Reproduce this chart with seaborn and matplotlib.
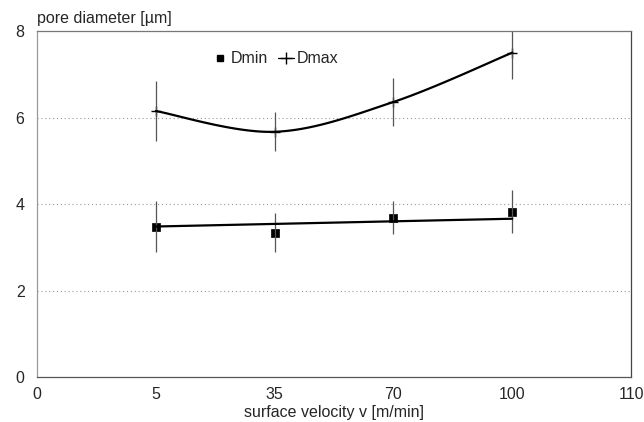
import numpy as np
import pandas as pd
import matplotlib.pyplot as plt
import seaborn as sns
from matplotlib.lines import Line2D

# x axis is categorical (equal spacing between velocities)
tick_labels = ["0", "5", "35", "70", "100", "110"]
velocity = ["5", "35", "70", "100"]

d_min = [3.48, 3.34, 3.68, 3.82]
d_min_err = [0.60, 0.46, 0.38, 0.50]
d_min_trend = [3.48, 3.54, 3.60, 3.66]

d_max = [6.15, 5.67, 6.36, 7.50]
d_max_err = [0.70, 0.45, 0.55, 0.60]

y_ticks = [0, 2, 4, 6, 8]

pos = [tick_labels.index(v) for v in velocity]
df = pd.DataFrame({"pos": pos, "dmin": d_min, "dmin_trend": d_min_trend, "dmax": d_max})


def smooth(x, y, n=40):
    # catmull-rom smoothing, like a spreadsheet "smoothed line"
    pts = np.column_stack([x, y]).astype(float)
    p = np.vstack([pts[0], pts, pts[-1]])
    t = np.linspace(0, 1, n)[:, None]
    segs = []
    for i in range(1, len(p) - 2):
        p0, p1, p2, p3 = p[i - 1], p[i], p[i + 1], p[i + 2]
        segs.append(0.5 * (2 * p1 + (-p0 + p2) * t + (2 * p0 - 5 * p1 + 4 * p2 - p3) * t ** 2
                           + (-p0 + 3 * p1 - 3 * p2 + p3) * t ** 3))
    return np.vstack(segs)


sns.set_style("white")
plt.rcParams['font.family'] = ['Liberation Sans', 'DejaVu Sans']

fig, ax = plt.subplots(figsize=(6.44, 4.22), dpi=100)
fig.subplots_adjust(left=0.0575, right=0.98, top=0.9265, bottom=0.1066)

# dotted grid lines
for yv in y_ticks[1:-1]:
    ax.axhline(yv, color='#999999', linestyle=(0, (1, 2.5)), linewidth=0.8, zorder=0)

# error bars
ax.errorbar(df["pos"], df["dmax"], yerr=d_max_err, fmt='none', ecolor='#555555', elinewidth=0.9, capsize=0)
ax.errorbar(df["pos"], df["dmin"], yerr=d_min_err, fmt='none', ecolor='#555555', elinewidth=0.9, capsize=0)

# Dmax smooth curve + markers
curve = smooth(df["pos"], df["dmax"])
sns.lineplot(x=curve[:, 0], y=curve[:, 1], sort=False, estimator=None, color='black', linewidth=1.6, ax=ax)
sns.scatterplot(data=df, x="pos", y="dmax", marker='+', s=50, color='black', linewidth=1.0, ax=ax)

# Dmin trend line + markers
sns.lineplot(data=df, x="pos", y="dmin_trend", color='black', linewidth=1.6, ax=ax)
sns.scatterplot(data=df, x="pos", y="dmin", marker='s', s=40, color='black', edgecolor='black', ax=ax)

ax.set_xlim(0, len(tick_labels) - 1)
ax.set_ylim(0, 8)
ax.set_xticks(range(len(tick_labels)))
ax.set_xticklabels(tick_labels)
ax.set_yticks(y_ticks)
ax.tick_params(axis='both', labelsize=11.5, length=0, pad=9)
ax.tick_params(axis='x', pad=7)
ax.set_xlabel("surface velocity v [m/min]", fontsize=11.5, labelpad=2)
ax.set_ylabel("")
ax.text(0, 1.015, "pore diameter [µm]", transform=ax.transAxes, fontsize=11.5, ha='left', va='bottom')

for side in ['left', 'bottom', 'right', 'top']:
    ax.spines[side].set_visible(True)
    ax.spines[side].set_linewidth(0.9)
ax.spines['left'].set_color('#999999')
ax.spines['bottom'].set_color('#555555')
ax.spines['right'].set_color('#444444')
ax.spines['top'].set_color('#777777')

handles = [
    Line2D([], [], marker='s', linestyle='none', color='black', markersize=5),
    Line2D([], [], marker='+', linestyle='-', color='black', markersize=9, linewidth=0.9),
]
ax.legend(handles, ["Dmin", "Dmax"], ncol=2, frameon=False, fontsize=11.5,
          loc='center left', bbox_to_anchor=(0.27, 0.92),
          handlelength=1.0, handletextpad=0.2, columnspacing=0.6)

fig.savefig("out.png", dpi=100)
